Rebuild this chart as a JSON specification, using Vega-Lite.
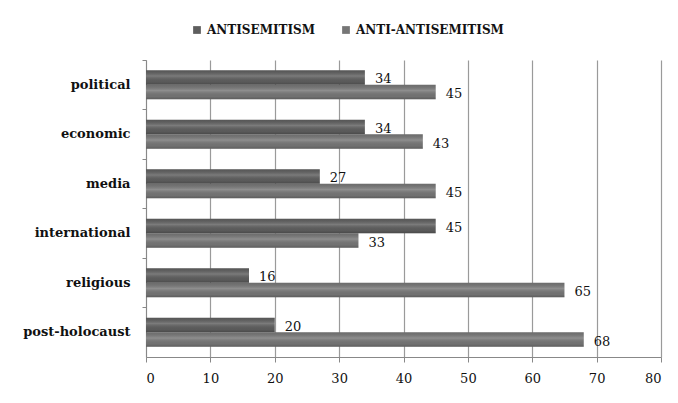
{
  "$schema": "https://vega.github.io/schema/vega-lite/v6.json",
  "width": 515,
  "height": 297,
  "autosize": {"type": "none"},
  "padding": {"left": 146, "top": 60, "right": 17, "bottom": 46},
  "background": "white",
  "config": {
    "view": {"stroke": null},
    "font": "DejaVu Serif"
  },
  "data": {
    "values": [
      {"category": "political", "series": "ANTISEMITISM", "value": 34},
      {"category": "political", "series": "ANTI-ANTISEMITISM", "value": 45},
      {"category": "economic", "series": "ANTISEMITISM", "value": 34},
      {"category": "economic", "series": "ANTI-ANTISEMITISM", "value": 43},
      {"category": "media", "series": "ANTISEMITISM", "value": 27},
      {"category": "media", "series": "ANTI-ANTISEMITISM", "value": 45},
      {"category": "international", "series": "ANTISEMITISM", "value": 45},
      {"category": "international", "series": "ANTI-ANTISEMITISM", "value": 33},
      {"category": "religious", "series": "ANTISEMITISM", "value": 16},
      {"category": "religious", "series": "ANTI-ANTISEMITISM", "value": 65},
      {"category": "post-holocaust", "series": "ANTISEMITISM", "value": 20},
      {"category": "post-holocaust", "series": "ANTI-ANTISEMITISM", "value": 68}
    ]
  },
  "encoding": {
    "y": {
      "field": "category",
      "type": "nominal",
      "sort": ["political", "economic", "media", "international", "religious", "post-holocaust"],
      "scale": {"paddingInner": 0, "paddingOuter": 0},
      "axis": {
        "title": null,
        "bandPosition": 0,
        "labelFont": "DejaVu Serif",
        "labelFontWeight": "bold",
        "labelFontSize": 13,
        "labelColor": "#111111",
        "labelPadding": 12,
        "labelBound": false,
        "tickSize": 4,
        "tickColor": "#888888",
        "domainColor": "#888888",
        "grid": false
      }
    },
    "yOffset": {
      "field": "series",
      "type": "nominal",
      "sort": ["ANTISEMITISM", "ANTI-ANTISEMITISM"],
      "scale": {"paddingInner": 0, "paddingOuter": 0.7}
    },
    "x": {
      "field": "value",
      "type": "quantitative",
      "scale": {"domain": [0, 80], "nice": false},
      "axis": {
        "title": null,
        "values": [0, 10, 20, 30, 40, 50, 60, 70, 80],
        "labelFont": "DejaVu Serif",
        "labelFontSize": 13,
        "labelColor": "#111111",
        "labelPadding": 10,
        "tickSize": 5,
        "tickColor": "#888888",
        "domainColor": "#888888",
        "grid": true,
        "gridColor": "#9a9a9a",
        "gridWidth": 1.2
      }
    }
  },
  "layer": [
    {
      "mark": {"type": "bar"},
      "encoding": {
        "color": {
          "field": "series",
          "type": "nominal",
          "sort": ["ANTISEMITISM", "ANTI-ANTISEMITISM"],
          "scale": {"domain": ["ANTISEMITISM", "ANTI-ANTISEMITISM"], "range": ["#5e5e5e", "#767676"]},
          "legend": {
            "title": null,
            "orient": "none",
            "direction": "horizontal",
            "columns": 2,
            "legendX": 45,
            "legendY": -36,
            "symbolType": "square",
            "symbolSize": 60,
            "symbolStrokeWidth": 0,
            "labelFont": "DejaVu Serif",
            "labelFontWeight": "bold",
            "labelFontSize": 12,
            "labelColor": "#111111",
            "labelOffset": 4,
            "columnPadding": 24
          }
        }
      }
    },
    {
      "mark": {
        "type": "bar",
        "color": {
          "gradient": "linear",
          "x1": 0, "y1": 0, "x2": 0, "y2": 1,
          "stops": [
            {"offset": 0, "color": "rgba(0,0,0,0.08)"},
            {"offset": 0.4, "color": "rgba(255,255,255,0.18)"},
            {"offset": 0.8, "color": "rgba(0,0,0,0.04)"},
            {"offset": 1, "color": "rgba(0,0,0,0.22)"}
          ]
        }
      },
      "encoding": {}
    },
    {
      "mark": {
        "type": "text",
        "align": "left",
        "baseline": "middle",
        "dx": 10,
        "dy": 2,
        "font": "DejaVu Serif",
        "fontSize": 13,
        "color": "#111111"
      },
      "encoding": {
        "text": {"field": "value", "type": "quantitative"}
      }
    }
  ]
}
